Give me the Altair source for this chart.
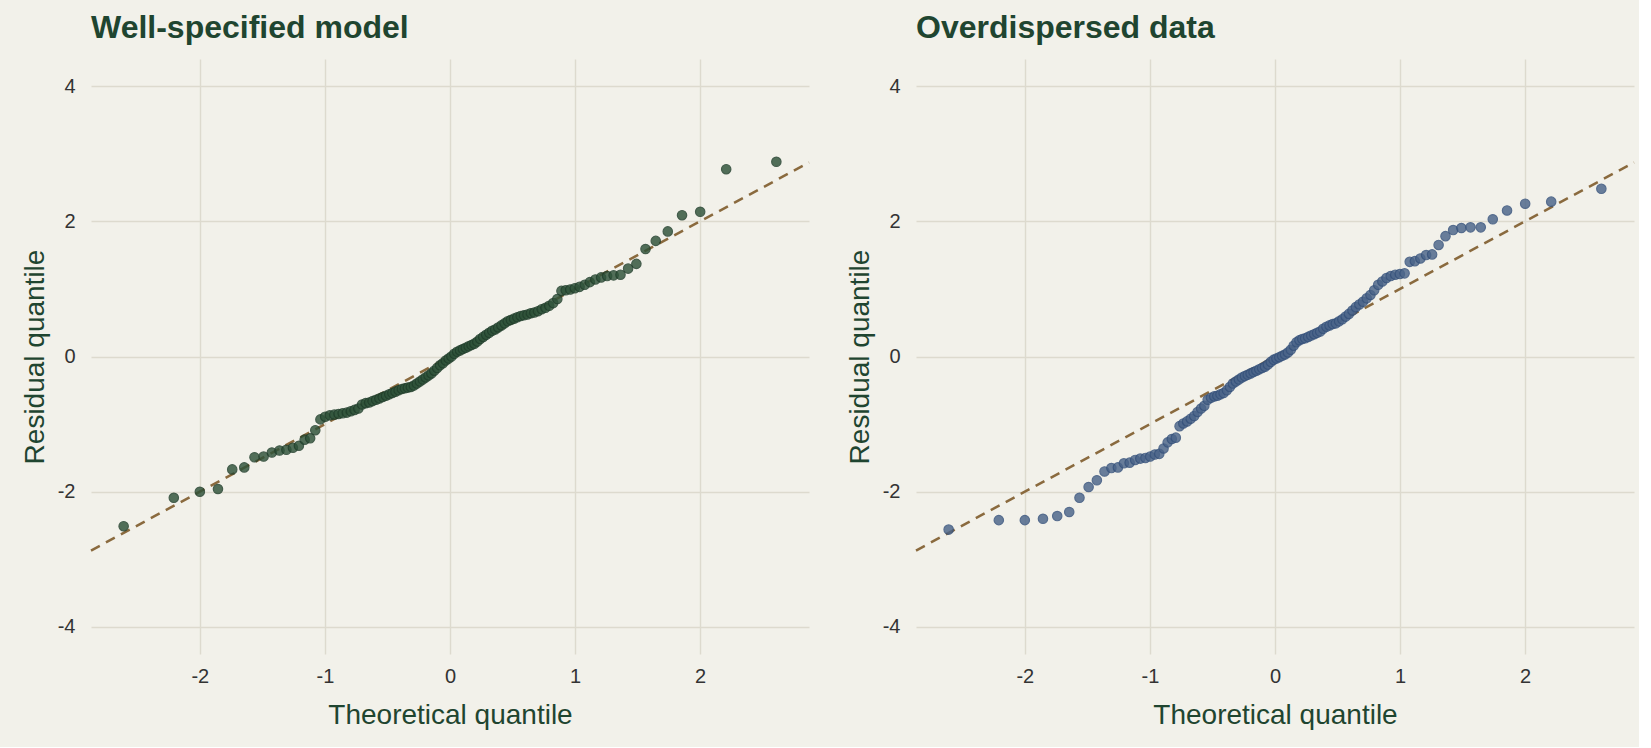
import altair as alt
import pandas as pd

# Theoretical normal quantiles for n = 110 (upper half; lower half is the mirror)
q_upper = [0.011, 0.034, 0.057, 0.080, 0.103, 0.126, 0.149, 0.172, 0.195, 0.218,
           0.241, 0.265, 0.289, 0.313, 0.337, 0.361, 0.385, 0.411, 0.436, 0.461,
           0.486, 0.512, 0.538, 0.565, 0.591, 0.619, 0.646, 0.674, 0.703, 0.733,
           0.763, 0.793, 0.825, 0.858, 0.891, 0.925, 0.961, 0.998, 1.036, 1.077,
           1.118, 1.162, 1.208, 1.256, 1.308, 1.363, 1.424, 1.490, 1.563, 1.645,
           1.741, 1.855, 2.000, 2.208, 2.609]
theoretical = [-v for v in reversed(q_upper)] + q_upper

# Sorted residuals, well-specified model
resid_good = [-2.51, -2.09, -2.00, -1.96, -1.67, -1.64, -1.49, -1.48, -1.42, -1.39,
              -1.38, -1.35, -1.32, -1.23, -1.21, -1.09, -0.93, -0.89, -0.87, -0.86,
              -0.85, -0.84, -0.83, -0.81, -0.79, -0.77, -0.71, -0.69, -0.68, -0.66,
              -0.64, -0.62, -0.60, -0.58, -0.56, -0.54, -0.52, -0.50, -0.48, -0.47,
              -0.46, -0.45, -0.43, -0.40, -0.37, -0.34, -0.31, -0.28, -0.25, -0.21,
              -0.17, -0.13, -0.10, -0.06, -0.03,
              0.00, 0.04, 0.07, 0.09, 0.11, 0.13, 0.15, 0.17, 0.19, 0.22,
              0.26, 0.29, 0.32, 0.35, 0.38, 0.40, 0.43, 0.46, 0.49, 0.52,
              0.54, 0.56, 0.58, 0.60, 0.61, 0.62, 0.64, 0.65, 0.67, 0.70,
              0.72, 0.75, 0.79, 0.85, 0.97, 0.98, 0.99, 1.01, 1.03, 1.06,
              1.10, 1.14, 1.17, 1.19, 1.20, 1.21, 1.30, 1.37, 1.59, 1.71,
              1.85, 2.09, 2.14, 2.77, 2.88]

# Sorted residuals, overdispersed data
resid_over = [-2.56, -2.42, -2.42, -2.40, -2.36, -2.30, -2.09, -1.93, -1.83, -1.70,
              -1.65, -1.64, -1.58, -1.57, -1.53, -1.51, -1.50, -1.48, -1.45, -1.44,
              -1.36, -1.27, -1.22, -1.20, -1.03, -0.99, -0.96, -0.92, -0.88, -0.82,
              -0.77, -0.73, -0.64, -0.61, -0.59, -0.58, -0.56, -0.54, -0.50, -0.45,
              -0.40, -0.37, -0.34, -0.31, -0.29, -0.27, -0.25, -0.23, -0.21, -0.19,
              -0.17, -0.15, -0.12, -0.08, -0.05,
              -0.03, -0.01, 0.01, 0.03, 0.06, 0.10, 0.16, 0.21, 0.24, 0.26,
              0.27, 0.29, 0.31, 0.33, 0.35, 0.37, 0.41, 0.44, 0.46, 0.48,
              0.49, 0.52, 0.55, 0.59, 0.63, 0.68, 0.73, 0.77, 0.81, 0.86,
              0.91, 0.98, 1.06, 1.11, 1.16, 1.19, 1.21, 1.22, 1.23, 1.40,
              1.41, 1.45, 1.50, 1.51, 1.65, 1.78, 1.87, 1.90, 1.91, 1.91,
              2.03, 2.16, 2.26, 2.29, 2.48]

# Reference line y = x across the plotted range
ref_x = [-2.87, 2.87]
ref_y = [-2.87, 2.87]

X_DOMAIN = [-2.87, 2.87]
Y_DOMAIN = [-4.4, 4.4]
X_TICKS = [-2, -1, 0, 1, 2]
Y_TICKS = [-4, -2, 0, 2, 4]

BG = "#f2f1ea"
DARK_GREEN = "#1f4530"
LINE_BROWN = "#8a6a3e"
FONT = "Liberation Sans"
PLAIN_LABEL = "'' + datum.value"

ref_df = pd.DataFrame({"x": ref_x, "y": ref_y})


def qq_panel(resid, title, fill, stroke):
    df = pd.DataFrame({"theoretical": theoretical, "residual": resid})
    x_enc = alt.X(
        "theoretical:Q",
        scale=alt.Scale(domain=X_DOMAIN, nice=False, zero=False),
        axis=alt.Axis(values=X_TICKS, title="Theoretical quantile",
                      labelExpr=PLAIN_LABEL, labelPadding=12, titlePadding=15),
    )
    y_enc = alt.Y(
        "residual:Q",
        scale=alt.Scale(domain=Y_DOMAIN, nice=False, zero=False),
        axis=alt.Axis(values=Y_TICKS, title="Residual quantile",
                      labelExpr=PLAIN_LABEL, labelPadding=16, titlePadding=8),
    )
    line = alt.Chart(ref_df).mark_line(
        color=LINE_BROWN, strokeWidth=2.5, strokeDash=[10, 7]
    ).encode(
        x=alt.X("x:Q", scale=alt.Scale(domain=X_DOMAIN, nice=False, zero=False)),
        y=alt.Y("y:Q", scale=alt.Scale(domain=Y_DOMAIN, nice=False, zero=False)),
    )
    pts = alt.Chart(df).mark_circle(
        size=88, color=fill, opacity=0.82, stroke=stroke, strokeWidth=1.2
    ).encode(x=x_enc, y=y_enc)
    return alt.layer(line, pts).properties(
        width=718,
        height=595,
        title=alt.TitleParams(
            title, anchor="start", frame="group", fontSize=32, fontWeight="bold",
            color=DARK_GREEN, font=FONT, offset=14,
        ),
    )


left = qq_panel(resid_good, "Well-specified model", "#2e5239", "#1f3d2a")
right = qq_panel(resid_over, "Overdispersed data", "#4a6489", "#34507a")

chart = alt.hconcat(left, right, spacing=32).properties(
    background=BG,
    padding={"left": 21, "top": 12, "right": 0, "bottom": 18},
).configure_view(
    stroke=None, fill=BG
).configure_axis(
    domain=False,
    ticks=False,
    grid=True,
    gridColor="#dddace",
    gridWidth=1.4,
    labelFont=FONT,
    labelFontSize=20,
    labelColor="#333333",
    titleFont=FONT,
    titleFontSize=28,
    titleFontWeight="normal",
    titleColor=DARK_GREEN,
)

chart.save("out.html", embed_options={"renderer": "svg", "actions": False})
